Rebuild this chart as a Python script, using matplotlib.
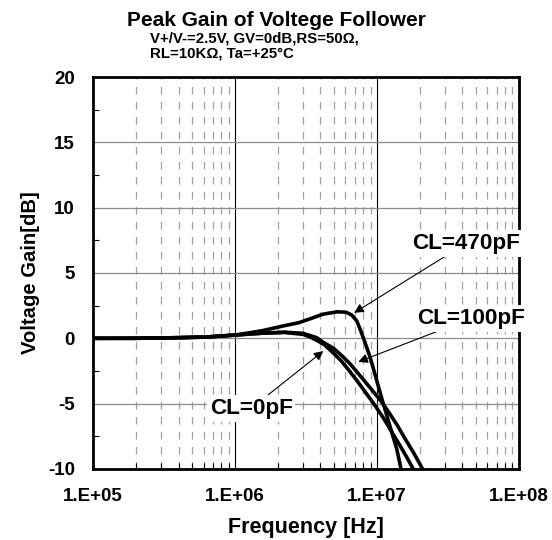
import numpy as np
import matplotlib.pyplot as plt
from matplotlib.ticker import FixedLocator, NullFormatter

plt.rcParams['font.family'] = ['Liberation Sans', 'DejaVu Sans']
plt.rcParams['font.weight'] = 'bold'
plt.rcParams['axes.unicode_minus'] = False

# frequency in MHz, gain in dB
f_0pF = [0.1, 0.2, 0.4, 0.63, 1.0, 1.58, 2.24, 3.02, 3.39, 3.76, 4.27, 4.9, 5.62,
         6.46, 7.41, 8.51, 9.77, 11.1, 12.6, 14.5, 16.2, 18.2]
g_0pF = [0.0, 0.0, 0.05, 0.1, 0.25, 0.4, 0.45, 0.3, 0.1, -0.15, -0.5, -1.1, -1.75,
         -2.55, -3.4, -4.3, -5.2, -6.1, -7.1, -8.2, -9.1, -10.1]

f_100pF = [0.1, 0.2, 0.4, 0.63, 1.0, 1.58, 2.24, 3.02, 3.76, 4.17, 4.92, 5.75,
           6.46, 7.94, 9.12, 10.5, 12.0, 13.8, 15.8, 18.2, 21.2]
g_100pF = [0.0, 0.0, 0.05, 0.1, 0.25, 0.4, 0.47, 0.38, 0.05, -0.3, -0.75, -1.4,
           -1.95, -3.1, -3.9, -4.7, -5.6, -6.6, -7.7, -8.8, -10.1]

f_470pF = [0.1, 0.32, 0.63, 1.0, 1.26, 1.58, 2.19, 2.82, 3.39, 4.17, 5.25, 6.03,
           6.61, 7.19, 7.67, 8.22, 8.91, 9.42, 10.0, 10.8, 11.5, 12.4, 13.2, 13.8,
           14.7, 15.0]
g_470pF = [0.0, 0.03, 0.1, 0.25, 0.42, 0.6, 0.95, 1.2, 1.5, 1.85, 2.03, 2.0,
           1.8, 1.35, 0.6, -0.3, -1.4, -2.3, -3.3, -4.6, -5.6, -6.8, -7.8, -8.5,
           -9.9, -10.3]

xticks = [1e5, 1e6, 1e7, 1e8]
xtick_labels = ['1.E+05', '1.E+06', '1.E+07', '1.E+08']
yticks = [-10, -5, 0, 5, 10, 15, 20]

fig = plt.figure(figsize=(5.52, 5.40), dpi=100)
ax = fig.add_axes([0.1685, 0.1315, 0.7717, 0.7259])

for f, g in [(f_0pF, g_0pF), (f_100pF, g_100pF), (f_470pF, g_470pF)]:
    ax.plot(np.array(f) * 1e6, g, color='black', lw=2.6, solid_capstyle='butt', zorder=3)

ax.set_xscale('log')
ax.set_xlim(1e5, 1e8)
ax.set_ylim(-10, 20)

ax.xaxis.set_major_locator(FixedLocator(xticks))
ax.set_xticklabels(xtick_labels)
minor_x = [m * 10 ** d for d in range(5, 8) for m in range(2, 10)]
ax.xaxis.set_minor_locator(FixedLocator(minor_x))
ax.xaxis.set_minor_formatter(NullFormatter())
ax.set_yticks(yticks)
ax.yaxis.set_minor_locator(FixedLocator(np.arange(-7.5, 20, 5)))

ax.grid(which='major', axis='x', color='black', lw=0.8)
ax.grid(which='major', axis='y', color='#8c8c8c', lw=0.9)
ax.grid(which='minor', axis='x', color='#a0a0a0', lw=0.9, ls=(0, (6, 6)))

ax.tick_params(which='major', length=0, labelsize=13.5)
ax.tick_params(axis='x', which='major', pad=13.5)
ax.tick_params(axis='y', which='major', pad=13)
ax.tick_params(which='minor', direction='in', length=4, width=0.8)
ax.tick_params(axis='x', which='minor', top=False)
for s in ax.spines.values():
    s.set_linewidth(2)

ax.set_xlabel('Frequency [Hz]', fontsize=15.5, weight='bold', labelpad=9)
ax.set_ylabel('Voltage Gain[dB]', fontsize=14.6, weight='bold', labelpad=6)

fig.text(0.501, 0.951, 'Peak Gain of Voltege Follower', ha='center', va='baseline', fontsize=15)
fig.text(0.272, 0.9213, 'V+/V-=2.5V, GV=0dB,RS=50\u03a9,', ha='left', va='baseline', fontsize=10.8)
fig.text(0.272, 0.8935, 'RL=10K\u03a9, Ta=+25\u00b0C', ha='left', va='baseline', fontsize=10.8)

box = dict(facecolor='white', edgecolor='none', pad=2)
arrow = dict(arrowstyle='-|>', color='black', lw=0.8, mutation_scale=14, shrinkA=0, shrinkB=0)
ax.annotate('CL=470pF', xy=(6.9e6, 1.95), xytext=(4.24e7, 7.27), fontsize=16.2,
            ha='center', va='center', bbox=box, arrowprops=arrow, annotation_clip=False, zorder=5)
ax.annotate('CL=100pF', xy=(7.38e6, -1.8), xytext=(4.59e7, 1.53), fontsize=16.2,
            ha='center', va='center', bbox=box, arrowprops=arrow, annotation_clip=False, zorder=5)
ax.annotate('CL=0pF', xy=(4.19e6, -0.97), xytext=(1.3e6, -5.36), fontsize=16.2,
            ha='center', va='center', bbox=box, arrowprops=arrow, zorder=5)

fig.savefig('out.png', dpi=100)
